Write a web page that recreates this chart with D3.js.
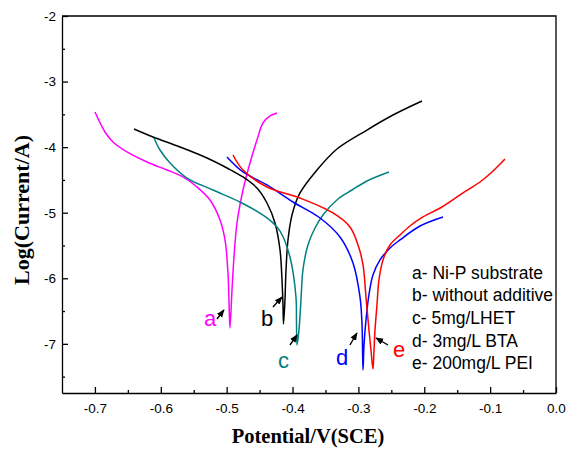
<!DOCTYPE html>
<html>
<head>
<meta charset="utf-8">
<script src="https://cdn.jsdelivr.net/npm/d3@7"></script>
<style>
  body { margin: 0; background: #fff; }
  svg { display: block; }
  .tick text { font-family: "Liberation Sans", Arial, sans-serif; font-size: 13.5px; fill: #000; }
  .axis path, .axis line { stroke: #000; stroke-width: 1.3; }
</style>
</head>
<body>
<svg id="chart" width="567" height="449"></svg>
<script>
// ========== Data ==========
const seriesKeys = ['a', 'b', 'c', 'd', 'e'];
const legendLabels = ['a- Ni-P substrate', 'b- without additive', 'c- 5mg/LHET', 'd- 3mg/L BTA', 'e- 200mg/L PEI'];

// potential (V vs SCE) and log(current/A), cathodic branch then anodic branch
const potentialA = [-0.6999, -0.6847, -0.6726, -0.6513, -0.6210, -0.5906, -0.5663, -0.5451, -0.5253, -0.5101, -0.5025, -0.4980, -0.4965, -0.4950,
  -0.4919, -0.4889, -0.4843, -0.4752, -0.4646, -0.4540, -0.4449, -0.4342, -0.4236];
const logCurrentA = [-3.464, -3.769, -3.922, -4.074, -4.227, -4.349, -4.455, -4.608, -4.806, -5.111, -5.416, -5.919, -6.330, -6.758,
  -6.179, -5.675, -5.157, -4.654, -4.242, -3.891, -3.632, -3.525, -3.479];

const potentialB = [-0.6407, -0.6118, -0.5709, -0.5299, -0.4995, -0.4752, -0.4540, -0.4388, -0.4266, -0.4190, -0.4160, -0.4145, -0.4137,
  -0.4115, -0.4099, -0.4069, -0.4008, -0.3887, -0.3629, -0.3325, -0.2870, -0.2475, -0.2035];
const logCurrentB = [-3.723, -3.845, -3.998, -4.166, -4.318, -4.455, -4.623, -4.852, -5.157, -5.569, -6.026, -6.407, -6.697,
  -6.331, -5.874, -5.416, -5.035, -4.699, -4.349, -4.028, -3.739, -3.510, -3.296];

const potentialC = [-0.6103, -0.6012, -0.5860, -0.5602, -0.5208, -0.4798, -0.4388, -0.4190, -0.4039, -0.3948, -0.3940, -0.3932,
  -0.3902, -0.3872, -0.3842, -0.3766, -0.3659, -0.3538, -0.3310, -0.3097, -0.2870, -0.2536];
const logCurrentC = [-3.861, -4.044, -4.242, -4.471, -4.654, -4.837, -5.080, -5.280, -5.675, -6.285, -6.650, -7.018,
  -6.789, -6.331, -5.874, -5.492, -5.233, -5.035, -4.791, -4.654, -4.516, -4.379];

const potentialD = [-0.4995, -0.4752, -0.4388, -0.3993, -0.3583, -0.3280, -0.3082, -0.2976, -0.2946, -0.2930,
  -0.2915, -0.2885, -0.2840, -0.2779, -0.2672, -0.2520, -0.2369, -0.2065, -0.1716];
const logCurrentD = [-4.150, -4.379, -4.577, -4.837, -5.081, -5.370, -5.767, -6.285, -6.682, -7.399,
  -7.018, -6.636, -6.255, -5.950, -5.721, -5.538, -5.416, -5.203, -5.065];

const potentialE = [-0.4904, -0.4752, -0.4388, -0.3887, -0.3386, -0.3128, -0.3006, -0.2930, -0.2885, -0.2840, -0.2809, -0.2779,
  -0.2763, -0.2748, -0.2718, -0.2688, -0.2627, -0.2520, -0.2369, -0.2217, -0.2020, -0.1731, -0.1412, -0.1154, -0.0972, -0.0775];
const logCurrentE = [-4.120, -4.349, -4.608, -4.776, -5.004, -5.218, -5.492, -5.797, -6.285, -6.789, -7.094, -7.384,
  -7.094, -6.789, -6.407, -6.026, -5.721, -5.492, -5.340, -5.203, -5.065, -4.913, -4.699, -4.532, -4.379, -4.181];

const xTicks = [-0.7, -0.6, -0.5, -0.4, -0.3, -0.2, -0.1, 0.0];
const xMinorTicks = [-0.65, -0.55, -0.45, -0.35, -0.25, -0.15, -0.05];
const yTicks = [-7, -6, -5, -4, -3, -2];
const yMinorTicks = [-7.5, -6.5, -5.5, -4.5, -3.5, -2.5];

// label letter + arrow (tail -> head) in data units
const labelPotential = [-0.5344, -0.4479, -0.4221, -0.3340, -0.2475];
const labelLog = [-6.728, -6.728, -7.368, -7.323, -7.201];
const arrowTailPotential = [-0.5147, -0.4297, -0.4039, -0.3128, -0.2551];
const arrowTailLog = [-6.621, -6.438, -7.018, -7.018, -7.018];
const arrowHeadPotential = [-0.5041, -0.4160, -0.3932, -0.3022, -0.2733];
const arrowHeadLog = [-6.484, -6.286, -6.865, -6.835, -6.911];

// ========== Config ==========
const config = {
  margin: {left: 62, top: 16, right: 11, bottom: 56},
  colors: {a: '#ff00ff', b: '#000000', c: '#008080', d: '#0000ff', e: '#ff0000'},
  legend: {x: 412, y: 278.5, step: 22.7}
};

const svg = d3.select('#chart');
const width = +svg.attr('width') - config.margin.left - config.margin.right;
const height = +svg.attr('height') - config.margin.top - config.margin.bottom;

const g = svg.append('g')
  .attr('transform', `translate(${config.margin.left},${config.margin.top})`);

// ========== Scales ==========
const x = d3.scaleLinear().domain([-0.75, 0]).range([0, width]);
const y = d3.scaleLinear().domain([-7.75, -2]).range([height, 0]);

// ========== Axes ==========
g.append('g')
  .attr('class', 'axis')
  .attr('transform', `translate(0,${height})`)
  .call(d3.axisBottom(x).tickValues(xTicks).tickFormat(d => d.toFixed(1))
    .tickSizeInner(-6).tickSizeOuter(0).tickPadding(10));

g.append('g')
  .attr('class', 'axis')
  .attr('transform', `translate(0,${height})`)
  .call(d3.axisBottom(x).tickValues(xMinorTicks).tickFormat('')
    .tickSizeInner(-3).tickSizeOuter(0))
  .select('.domain').remove();

g.append('g')
  .attr('class', 'axis')
  .call(d3.axisLeft(y).tickValues(yTicks).tickFormat(d => String(d))
    .tickSizeInner(-6).tickSizeOuter(0).tickPadding(6));

g.append('g')
  .attr('class', 'axis')
  .call(d3.axisLeft(y).tickValues(yMinorTicks).tickFormat('')
    .tickSizeInner(-3).tickSizeOuter(0))
  .select('.domain').remove();

// top and right frame
g.append('path')
  .attr('d', `M0,0H${width}V${height}`)
  .attr('fill', 'none')
  .attr('stroke', '#000')
  .attr('stroke-width', 1.3);

// ========== Axis Titles ==========
svg.append('text')
  .attr('transform', 'translate(29,210) rotate(-90)')
  .attr('text-anchor', 'middle')
  .style('font-family', '"Liberation Serif", "Times New Roman", serif')
  .style('font-weight', 'bold')
  .style('font-size', '22px')
  .text('Log(Current/A)');

svg.append('text')
  .attr('x', 308)
  .attr('y', 443)
  .attr('text-anchor', 'middle')
  .style('font-family', '"Liberation Serif", "Times New Roman", serif')
  .style('font-weight', 'bold')
  .style('font-size', '20.5px')
  .text('Potential/V(SCE)');

// ========== Curves ==========
const potentials = [potentialA, potentialB, potentialC, potentialD, potentialE];
const logCurrents = [logCurrentA, logCurrentB, logCurrentC, logCurrentD, logCurrentE];

const series = seriesKeys.map((key, i) => ({
  key: key,
  points: potentials[i].map((p, j) => [p, logCurrents[i][j]])
}));

const line = d3.line()
  .x(d => x(d[0]))
  .y(d => y(d[1]))
  .curve(d3.curveCatmullRom.alpha(0.5));

g.append('g')
  .selectAll('path')
  .data(series)
  .join('path')
    .attr('d', d => line(d.points))
    .attr('fill', 'none')
    .attr('stroke', d => config.colors[d.key])
    .attr('stroke-width', 1.5);

// ========== Letter Labels & Arrows ==========
svg.append('defs').append('marker')
  .attr('id', 'arrowhead')
  .attr('viewBox', '0 0 10 10')
  .attr('refX', 9)
  .attr('refY', 5)
  .attr('markerWidth', 8)
  .attr('markerHeight', 8)
  .attr('markerUnits', 'userSpaceOnUse')
  .attr('orient', 'auto')
  .append('path')
    .attr('d', 'M0,1L10,5L0,9Z')
    .attr('fill', '#000');

g.append('g')
  .selectAll('line')
  .data(seriesKeys)
  .join('line')
    .attr('x1', (d, i) => x(arrowTailPotential[i]))
    .attr('y1', (d, i) => y(arrowTailLog[i]))
    .attr('x2', (d, i) => x(arrowHeadPotential[i]))
    .attr('y2', (d, i) => y(arrowHeadLog[i]))
    .attr('stroke', '#000')
    .attr('stroke-width', 1.4)
    .attr('marker-end', 'url(#arrowhead)');

g.append('g')
  .selectAll('text')
  .data(seriesKeys)
  .join('text')
    .attr('x', (d, i) => x(labelPotential[i]))
    .attr('y', (d, i) => y(labelLog[i]))
    .attr('fill', d => config.colors[d])
    .style('font-family', '"Liberation Sans", Arial, sans-serif')
    .style('font-size', '22px')
    .text(d => d);

// ========== Legend ==========
svg.append('g')
  .selectAll('text')
  .data(legendLabels)
  .join('text')
    .attr('x', config.legend.x)
    .attr('y', (d, i) => config.legend.y + i * config.legend.step)
    .style('font-family', '"Liberation Sans", Arial, sans-serif')
    .style('font-size', '17.5px')
    .text(d => d);
</script>
</body>
</html>
